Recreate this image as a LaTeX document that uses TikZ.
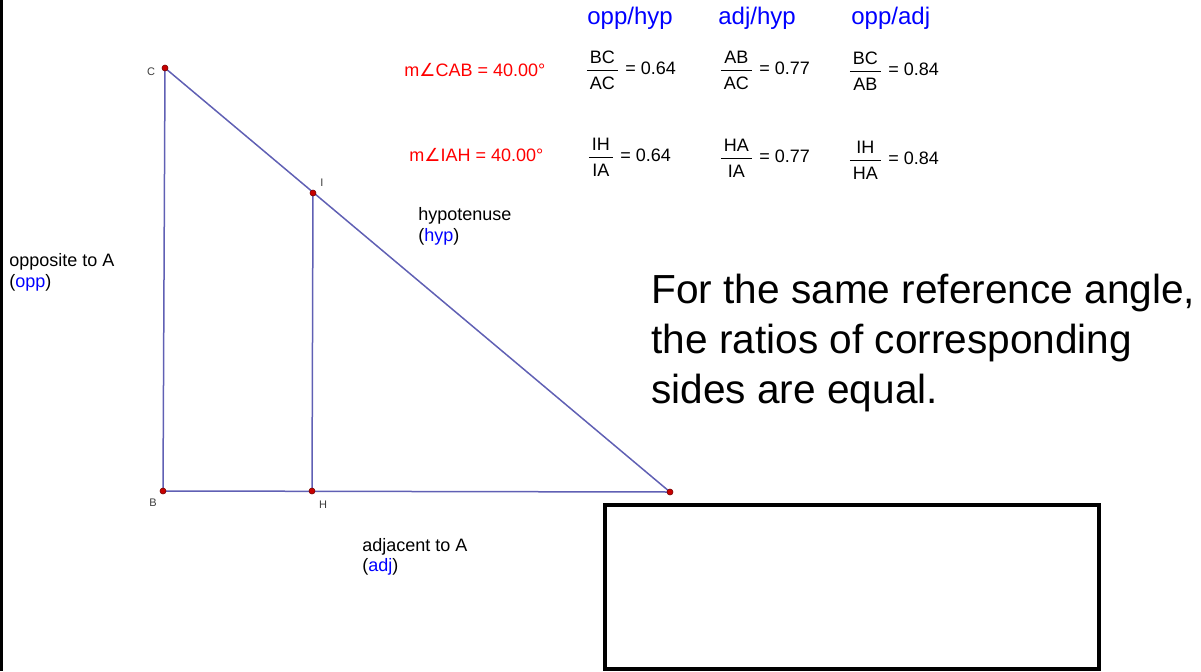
\documentclass[tikz,border=0pt]{standalone}
\usepackage{amsmath}
\usepackage{fontspec}
\setmainfont{Liberation Sans}
\newfontfamily\symfont{DejaVu Sans}
\definecolor{tri}{RGB}{96,96,180}
\definecolor{ptred}{RGB}{200,0,0}
\definecolor{lblgray}{RGB}{60,60,60}
\newcommand{\ang}{{\symfont\char"2220}}
\newcommand{\rat}[2]{$\dfrac{\,\text{#1}\rule[-2.2pt]{0pt}{2.2pt}\,}{\,\text{#2}\rule{0pt}{8.2pt}\,}$\;= }
\begin{document}
\begin{tikzpicture}[x=0.5pt,y=-0.5pt,
  lbl/.style={font=\fontsize{9}{10.8}\selectfont, inner sep=0, anchor=west},
  ptlbl/.style={font=\fontsize{5.5}{6}\selectfont, text=lblgray, inner sep=0},
  hdr/.style={font=\fontsize{12}{14}\selectfont, text=blue, inner sep=0, anchor=west},
  anglbl/.style={lbl, text=red},
  big/.style={font=\fontsize{20.3}{25}\selectfont, inner sep=0, anchor=base west},
  side/.style={draw=tri, line width=0.75pt},
  dot/.style={circle, fill=ptred, draw=ptred!60!black, inner sep=0, minimum size=3pt, line width=0.3pt}]
\useasboundingbox (0,0) rectangle (1201,671);
\draw[line width=1.5pt] (1.5,0) -- (1.5,671);
% triangle
\coordinate (C) at (165,68);
\coordinate (B) at (163,491);
\coordinate (H) at (312,491);
\coordinate (I) at (313,193);
\coordinate (A) at (670,492);
\draw[side] (C) -- (B) -- (A) -- cycle;
\draw[side] (I) -- (H);
\foreach \p in {A,B,C,H,I} \node[dot] (d\p) at (\p) {};
\node[ptlbl] (lC) at (151,72) {C};
\node[ptlbl] (lB) at (153,503) {B};
\node[ptlbl] (lH) at (323,505) {H};
\node[ptlbl] (lI) at (322,183) {I};
% side labels
\node[lbl] (opp1) at (9,262) {opposite to A};
\node[lbl] (opp2) at (9,283) {(\textcolor{blue}{opp})};
\node[lbl] (hyp1) at (418,216) {hypotenuse};
\node[lbl] (hyp2) at (418,237) {(\textcolor{blue}{hyp})};
\node[lbl] (adj1) at (362,547) {adjacent to A};
\node[lbl] (adj2) at (362,567) {(\textcolor{blue}{adj})};
% headers
\node[hdr] (h1) at (587,18) {opp/hyp};
\node[hdr] (h2) at (718,18) {adj/hyp};
\node[hdr] (h3) at (851,18) {opp/adj};
% angles
\node[anglbl] (a1) at (404,70) {m\ang CAB = 40.00°};
\node[anglbl] (a2) at (409,155) {m\ang IAH = 40.00°};
% ratios
\node[lbl] (r11) at (584,70) {\rat{BC}{AC}0.64};
\node[lbl] (r12) at (718,70) {\rat{AB}{AC}0.77};
\node[lbl] (r13) at (847,71) {\rat{BC}{AB}0.84};
\node[lbl] (r21) at (586,157) {\rat{IH}{IA}0.64};
\node[lbl] (r22) at (718,158) {\rat{HA}{IA}0.77};
\node[lbl] (r23) at (847,160) {\rat{IH}{HA}0.84};
% statement
\node[big] (s1) at (651,303) {For the same reference angle,};
\node[big] (s2) at (651,353) {the ratios of corresponding};
\node[big] (s3) at (651,403) {sides are equal.};
% empty box
\draw[line width=2pt] (605,505) rectangle (1099,669);
\end{tikzpicture}
\end{document}
